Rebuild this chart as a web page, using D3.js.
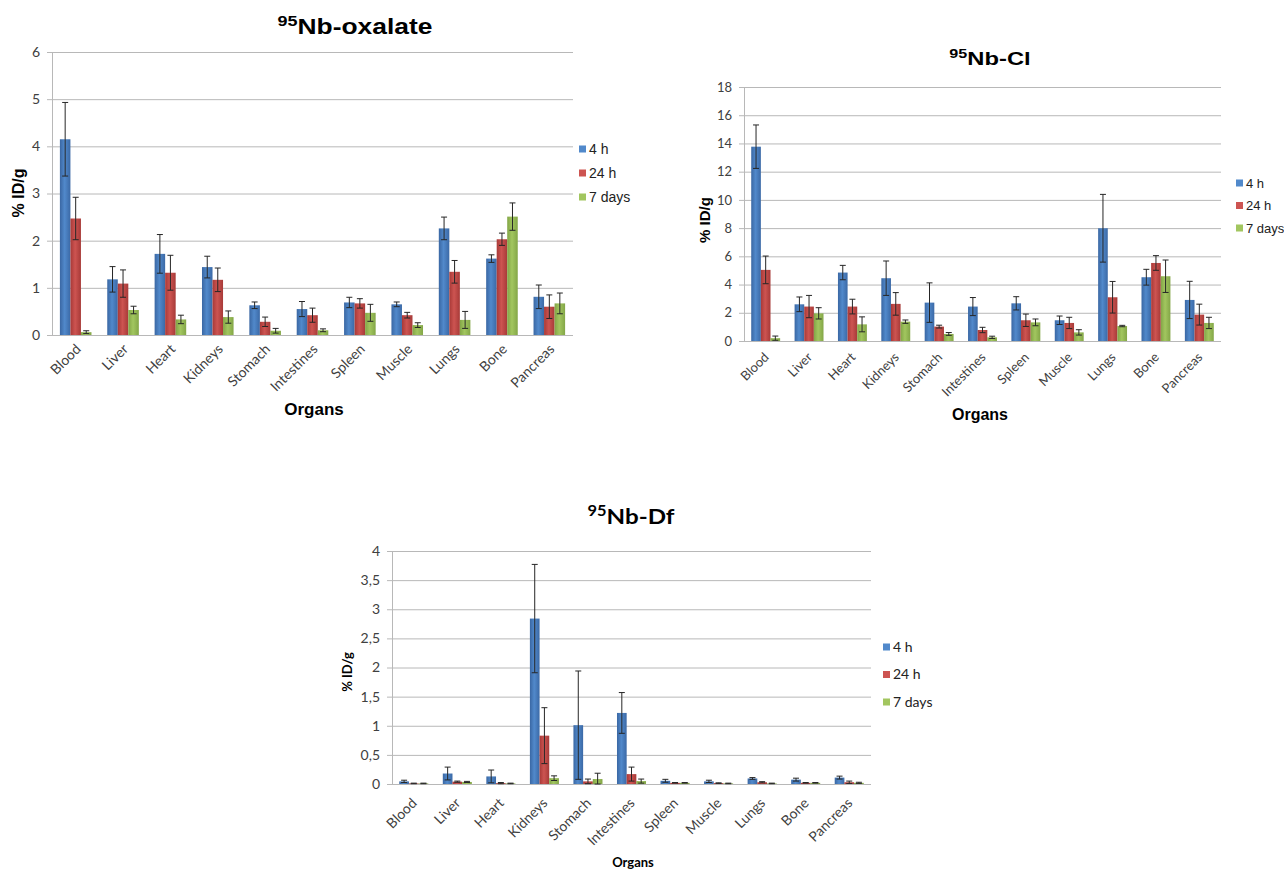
<!DOCTYPE html>
<html>
<head>
<meta charset="utf-8">
<script src="https://cdn.jsdelivr.net/npm/d3@7"></script>
<style>
  body { margin: 0; background: #fff; }
  svg { display: block; }
  .tick text { fill: #404040; }
</style>
</head>
<body>
<div id="chart"></div>
<script>
// Organos y series
const organs = ["Blood", "Liver", "Heart", "Kidneys", "Stomach", "Intestines", "Spleen", "Muscle", "Lungs", "Bone", "Pancreas"];
const series = ["4 h", "24 h", "7 days"];

// 95Nb-oxalate
const oxa4h   = [4.15, 1.18, 1.72, 1.44, 0.63, 0.55, 0.69, 0.65, 2.26, 1.62, 0.81];
const oxa24h  = [2.47, 1.09, 1.32, 1.17, 0.28, 0.42, 0.67, 0.42, 1.34, 2.03, 0.60];
const oxa7d   = [0.06, 0.53, 0.33, 0.38, 0.09, 0.10, 0.47, 0.21, 0.32, 2.51, 0.67];
const oxa4hErr  = [0.78, 0.27, 0.41, 0.23, 0.07, 0.16, 0.11, 0.05, 0.24, 0.08, 0.25];
const oxa24hErr = [0.45, 0.29, 0.37, 0.25, 0.10, 0.15, 0.10, 0.06, 0.24, 0.13, 0.25];
const oxa7dErr  = [0.03, 0.08, 0.09, 0.13, 0.05, 0.03, 0.18, 0.05, 0.18, 0.29, 0.22];

// 95Nb-Cl
const cl4h   = [13.77, 2.60, 4.85, 4.45, 2.72, 2.44, 2.67, 1.47, 7.99, 4.52, 2.91];
const cl24h  = [5.04, 2.44, 2.44, 2.63, 1.02, 0.78, 1.47, 1.28, 3.10, 5.53, 1.87];
const cl7d   = [0.20, 1.96, 1.18, 1.37, 0.50, 0.26, 1.32, 0.61, 1.06, 4.59, 1.28];
const cl4hErr  = [1.54, 0.52, 0.51, 1.22, 1.40, 0.64, 0.47, 0.30, 2.40, 0.56, 1.32];
const cl24hErr = [0.98, 0.79, 0.52, 0.80, 0.10, 0.19, 0.44, 0.40, 1.12, 0.52, 0.74];
const cl7dErr  = [0.15, 0.40, 0.53, 0.12, 0.10, 0.08, 0.24, 0.19, 0.05, 1.15, 0.40];

// 95Nb-Df
const df4h   = [0.045, 0.18, 0.13, 2.84, 1.01, 1.22, 0.055, 0.045, 0.095, 0.075, 0.11];
const df24h  = [0.010, 0.04, 0.015, 0.83, 0.045, 0.17, 0.020, 0.015, 0.030, 0.020, 0.03];
const df7d   = [0.010, 0.035, 0.010, 0.10, 0.085, 0.05, 0.020, 0.010, 0.010, 0.020, 0.02];
const df4hErr  = [0.02, 0.11, 0.11, 0.93, 0.93, 0.35, 0.025, 0.02, 0.015, 0.025, 0.025];
const df24hErr = [0.005, 0.01, 0.01, 0.48, 0.04, 0.12, 0.005, 0.005, 0.01, 0.005, 0.02];
const df7dErr  = [0.005, 0.01, 0.005, 0.04, 0.10, 0.035, 0.005, 0.005, 0.005, 0.005, 0.01];

const svg = d3.select('#chart')
    .append('svg')
    .attr('width', 1284)
    .attr('height', 872);

// Degradados tipo Excel
const colors = [
    ['#3a67a3', '#5189cb', '#3b69a6'],
    ['#a83937', '#cd5451', '#a73a38'],
    ['#82a546', '#a2c65f', '#83a647']
];
const defs = svg.append('defs');
colors.forEach(function(c, i) {
    let grad = defs.append('linearGradient')
        .attr('id', 'grad' + i)
        .attr('x1', '0%').attr('x2', '100%')
        .attr('y1', '0%').attr('y2', '0%');
    grad.append('stop').attr('offset', '0%').attr('stop-color', c[0]);
    grad.append('stop').attr('offset', '45%').attr('stop-color', c[1]);
    grad.append('stop').attr('offset', '100%').attr('stop-color', c[2]);
});

const commaFormat = d3.formatLocale({decimal: ',', thousands: '.', grouping: [3], currency: ['', '']}).format('.1~f');

function drawChart(o) {
    const g = svg.append('g');
    const values = o.values, errs = o.errs;

    let x = d3.scaleBand()
        .domain(organs)
        .range([o.left, o.right])
        .paddingInner(1 / 3)
        .paddingOuter(1 / 6);
    let xs = d3.scaleBand()
        .domain(series)
        .range([0, x.bandwidth()]);
    let y = d3.scaleLinear()
        .domain([0, o.max])
        .range([o.bottom, o.top]);
    let ticks = d3.range(0, o.max + o.step / 2, o.step);

    //Lineas de fondo
    g.append('g')
        .attr('transform', 'translate(' + o.left + ',0)')
        .call(d3.axisLeft(y).tickValues(ticks).tickSize(-(o.right - o.left)).tickFormat(''))
        .call(s => s.select('.domain').remove())
        .selectAll('line')
        .attr('stroke', '#b8b8b8');

    //Eje Y
    let yAxis = g.append('g')
        .attr('transform', 'translate(' + o.left + ',0)')
        .call(d3.axisLeft(y).tickValues(ticks).tickSize(5).tickPadding(7).tickFormat(o.format));
    yAxis.select('.domain').attr('stroke', '#b8b8b8');
    yAxis.selectAll('line').attr('stroke', '#b8b8b8');
    yAxis.selectAll('text')
        .style('font-family', 'Lato, sans-serif')
        .style('font-size', o.tickSize + 'px');

    //Eje X
    let xAxis = g.append('g')
        .attr('transform', 'translate(0,' + o.bottom + ')')
        .call(d3.axisBottom(x).tickSize(0));
    xAxis.select('.domain').remove();
    xAxis.selectAll('text')
        .style('font-family', 'Lato, sans-serif')
        .style('font-size', o.catSize + 'px')
        .attr('text-anchor', 'end')
        .attr('dy', 0)
        .attr('y', 0)
        .attr('transform', 'translate(' + o.labelDx + ',' + o.labelDy + ') rotate(-45)');

    //Barras
    series.forEach(function(s, si) {
        let grp = g.append('g');
        grp.selectAll('rect')
            .data(organs)
            .enter()
            .append('rect')
            .attr('x', d => x(d) + xs(s))
            .attr('width', xs.bandwidth())
            .attr('y', (d, i) => y(values[si][i]))
            .attr('height', (d, i) => o.bottom - y(values[si][i]))
            .attr('fill', 'url(#grad' + si + ')');

        //Barras de error
        let eb = grp.selectAll('g.err')
            .data(organs)
            .enter()
            .append('g')
            .attr('class', 'err')
            .attr('stroke', '#262626')
            .attr('stroke-width', 1);
        let cx = d => x(d) + xs(s) + xs.bandwidth() / 2;
        eb.append('line')
            .attr('x1', cx).attr('x2', cx)
            .attr('y1', (d, i) => y(values[si][i] + errs[si][i]))
            .attr('y2', (d, i) => y(Math.max(0, values[si][i] - errs[si][i])));
        eb.append('line')
            .attr('x1', d => cx(d) - 3).attr('x2', d => cx(d) + 3)
            .attr('y1', (d, i) => y(values[si][i] + errs[si][i]))
            .attr('y2', (d, i) => y(values[si][i] + errs[si][i]));
        eb.append('line')
            .attr('x1', d => cx(d) - 3).attr('x2', d => cx(d) + 3)
            .attr('y1', (d, i) => y(Math.max(0, values[si][i] - errs[si][i])))
            .attr('y2', (d, i) => y(Math.max(0, values[si][i] - errs[si][i])));
    });

    //Titulo (un poco ensanchado, como en la figura original)
    let t = g.append('text')
        .attr('transform', 'translate(' + o.titleX + ',' + o.titleY + ') scale(' + o.titleStretch + ',1)')
        .attr('text-anchor', 'middle')
        .style('font-family', o.titleFont)
        .style('font-weight', 'bold')
        .style('font-size', o.titleSize + 'px');
    t.append('tspan').text('95').style('font-size', (o.titleSize * 0.68) + 'px').attr('dy', -o.titleSize * 0.36);
    t.append('tspan').text(o.title).attr('dy', o.titleSize * 0.36);

    //Titulos de ejes
    g.append('text')
        .attr('transform', 'translate(' + o.yLabelX + ',' + o.yLabelY + ') rotate(-90)')
        .attr('text-anchor', 'middle')
        .style('font-family', o.axisFont)
        .style('font-weight', 'bold')
        .style('font-size', o.axisSize + 'px')
        .text('% ID/g');
    g.append('text')
        .attr('x', o.xLabelX)
        .attr('y', o.xLabelY)
        .attr('text-anchor', 'middle')
        .style('font-family', o.axisFont)
        .style('font-weight', 'bold')
        .style('font-size', o.xAxisSize + 'px')
        .text('Organs');

    //Leyenda
    let leg = g.append('g');
    series.forEach(function(s, si) {
        let ly = o.legY + si * o.legGap;
        leg.append('rect')
            .attr('x', o.legX)
            .attr('y', ly - 3.5)
            .attr('width', 7)
            .attr('height', 7)
            .attr('fill', colors[si][1]);
        leg.append('text')
            .attr('x', o.legX + 10)
            .attr('y', ly)
            .attr('dy', '0.35em')
            .style('font-family', o.legFont)
            .style('font-size', o.legSize + 'px')
            .attr('fill', '#222')
            .text(s);
    });
}

drawChart({
    values: [oxa4h, oxa24h, oxa7d], errs: [oxa4hErr, oxa24hErr, oxa7dErr],
    left: 52, right: 573, top: 52, bottom: 335, max: 6, step: 1, format: d3.format('d'),
    tickSize: 14, catSize: 14, labelDx: 6, labelDy: 15,
    title: 'Nb-oxalate', titleX: 355, titleY: 34, titleSize: 22, titleStretch: 1.2, titleFont: 'Liberation Sans, Arial, sans-serif',
    axisFont: 'Liberation Sans, Arial, sans-serif', axisSize: 16, xAxisSize: 17,
    yLabelX: 24, yLabelY: 193, xLabelX: 314, xLabelY: 415,
    legX: 579, legY: 149, legGap: 24, legFont: 'Liberation Sans, Arial, sans-serif', legSize: 14
});

drawChart({
    values: [cl4h, cl24h, cl7d], errs: [cl4hErr, cl24hErr, cl7dErr],
    left: 744, right: 1221, top: 87, bottom: 341, max: 18, step: 2, format: d3.format('d'),
    tickSize: 13, catSize: 13, labelDx: 4, labelDy: 17,
    title: 'Nb-Cl', titleX: 990, titleY: 65, titleSize: 19, titleStretch: 1.25, titleFont: 'Liberation Sans, Arial, sans-serif',
    axisFont: 'Liberation Sans, Arial, sans-serif', axisSize: 15, xAxisSize: 16,
    yLabelX: 710, yLabelY: 220, xLabelX: 980, xLabelY: 420,
    legX: 1236, legY: 183, legGap: 22.5, legFont: 'Liberation Sans, Arial, sans-serif', legSize: 13
});

drawChart({
    values: [df4h, df24h, df7d], errs: [df4hErr, df24hErr, df7dErr],
    left: 392, right: 871, top: 551, bottom: 784, max: 4, step: 0.5, format: commaFormat,
    tickSize: 14, catSize: 14, labelDx: 4, labelDy: 20,
    title: 'Nb-Df', titleX: 631, titleY: 524, titleSize: 21, titleStretch: 1.15, titleFont: 'Lato, sans-serif',
    axisFont: 'Lato, sans-serif', axisSize: 13, xAxisSize: 13,
    yLabelX: 352, yLabelY: 672, xLabelX: 633, xLabelY: 867,
    legX: 883, legY: 647, legGap: 27.5, legFont: 'Lato, sans-serif', legSize: 14
});
</script>
</body>
</html>
